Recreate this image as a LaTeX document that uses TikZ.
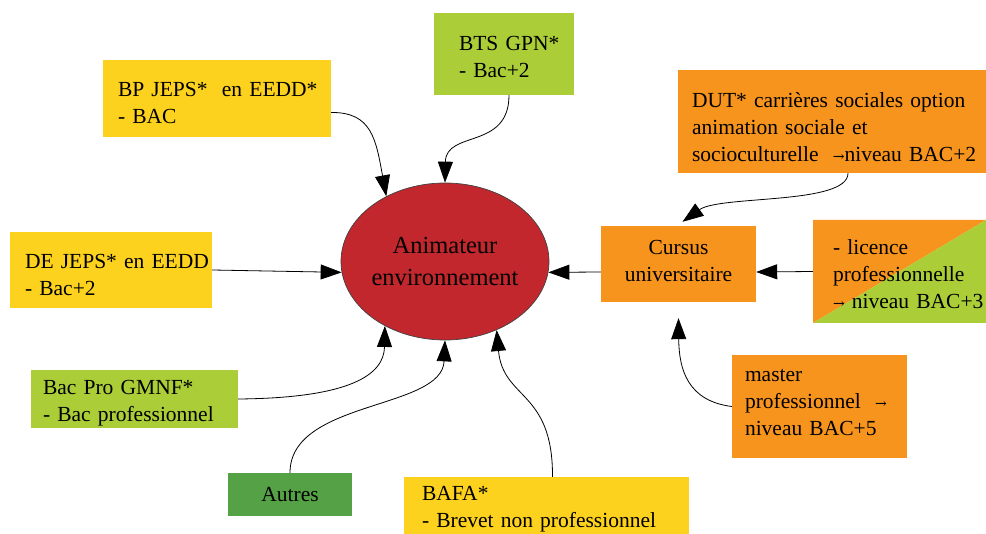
\documentclass[tikz,border=0pt]{standalone}
\usepackage{fontspec}
\setmainfont{Liberation Serif}
\newfontfamily\symfont{DejaVu Serif}
\usetikzlibrary{arrows.meta,shapes.geometric}
\definecolor{boxyellow}{HTML}{FDD21F}
\definecolor{boxlime}{HTML}{ABCD37}
\definecolor{boxorange}{HTML}{F7941E}
\definecolor{boxgreen}{HTML}{55A146}
\definecolor{ellred}{HTML}{C1272D}
\newcommand\rarr{{\symfont\fontsize{14}{14}\selectfont →}}
\begin{document}
\begin{tikzpicture}[x=1pt,y=-1pt,
  card/.style={rectangle, inner ysep=0pt, align=left,
    font=\fontsize{21.5}{27}\selectfont},
  % a tall strut on the first line pushes the text block down,
  % a deep strut on the last line pulls it up
  textdrop/.style={execute at begin node={\rule{0pt}{#1}}},
  textlift/.style={execute at end node={\rule[-#1]{0pt}{0pt}}},
  link/.style={-{Triangle[length=21pt,width=15pt]}, line width=0.8pt}]
\useasboundingbox (0,0) rectangle (986,534);

% central goal
\node[ellipse, fill=ellred, draw=black!75, line width=0.7pt,
      minimum width=208pt, minimum height=157pt, inner sep=0pt,
      align=center, font=\fontsize{24.5}{32}\selectfont]
  (ell) at (445,261.5) {Animateur\\environnement};

% diplomas and pathways
\node[card, fill=boxlime, minimum width=140pt, minimum height=82pt,
      inner xsep=25pt, text width=90pt, textdrop=20.7pt]
  (bts) at (504,54) {BTS~GPN*\\-~Bac+2};
\node[card, fill=boxyellow, minimum width=228pt, minimum height=77pt,
      inner xsep=15pt, text width=198pt, textdrop=22.7pt]
  (bp) at (217,98.5) {BP~JEPS*~~en~EEDD*\\-~BAC};
\node[card, fill=boxorange, minimum width=308pt, minimum height=103pt,
      inner xsep=14pt, text width=280pt, textdrop=26.7pt]
  (dut) at (832,121.5) {DUT*~carrières~sociales~option\\animation~sociale~et\\socioculturelle~~\rarr niveau~BAC+2};
\node[card, fill=boxyellow, minimum width=202pt, minimum height=76pt,
      inner xsep=15pt, text width=172pt, textdrop=24.7pt]
  (de) at (111,270) {DE~JEPS*~en~EEDD\\-~Bac+2};
\node[card, fill=boxorange, minimum width=155pt, minimum height=76pt,
      inner xsep=7.5pt, text width=140pt, align=center, textlift=6pt]
  (cu) at (678.5,264) {Cursus\\universitaire};
\node[card, minimum width=173pt, minimum height=103pt,
      inner xsep=20pt, text width=133pt, textdrop=20.7pt,
      path picture={
        \fill[boxorange] (path picture bounding box.north west) --
          (path picture bounding box.north east) --
          (path picture bounding box.south west) -- cycle;
        \fill[boxlime] (path picture bounding box.north east) --
          (path picture bounding box.south east) --
          (path picture bounding box.south west) -- cycle;}]
  (lic) at (899.5,271.5) {-~licence\\professionnelle\\\rarr~niveau~BAC+3};
\node[card, fill=boxlime, minimum width=207pt, minimum height=58pt,
      inner xsep=12pt, text width=183pt, textdrop=22.7pt]
  (bac) at (134.5,399) {Bac~Pro~GMNF*\\-~Bac~professionnel};
\node[card, fill=boxgreen, minimum width=124pt, minimum height=43pt,
      inner xsep=5pt, text width=114pt, align=center]
  (aut) at (290,494.5) {Autres};
\node[card, fill=boxyellow, minimum width=285pt, minimum height=58pt,
      inner xsep=18pt, text width=249pt, textdrop=20.7pt]
  (bafa) at (546.5,506) {BAFA*\\-~Brevet~non~professionnel};
\node[card, fill=boxorange, minimum width=175pt, minimum height=103pt,
      inner xsep=13pt, text width=149pt, textlift=8pt]
  (ma) at (819.5,406.5) {master\\professionnel~~\rarr\\niveau~BAC+5};

% connectors into the goal
\draw[link] ([yshift=-14pt]bp.east) .. controls (372,112) and (376,140) .. (ell.132);
\draw[link] ([xshift=5pt]bts.south) .. controls (509,150) and (446,130) .. (ell.north);
\draw[link] (de.east) -- (ell.186);
\draw[link] ([yshift=-8pt]cu.west) -- (ell.354);
\draw[link] (bac.east) .. controls (350,398) and (384,375) .. (ell.227);
\draw[link] (aut.north) .. controls (290,400) and (442,410) .. (ell.south);
\draw[link] ([xshift=6pt]bafa.north) .. controls (553,390) and (503,400) .. (ell.307);

% connectors into the university pathway
\draw[link] (lic.west) -- ([yshift=-8pt]cu.east);
\draw[link] ([xshift=16pt]dut.south) .. controls (848,205) and (720,195) .. ([xshift=4pt,yshift=4pt]cu.north);
\draw[link] (ma.west) .. controls (688,401) and (679,370) .. ([yshift=-16pt]cu.south);
\end{tikzpicture}
\end{document}
